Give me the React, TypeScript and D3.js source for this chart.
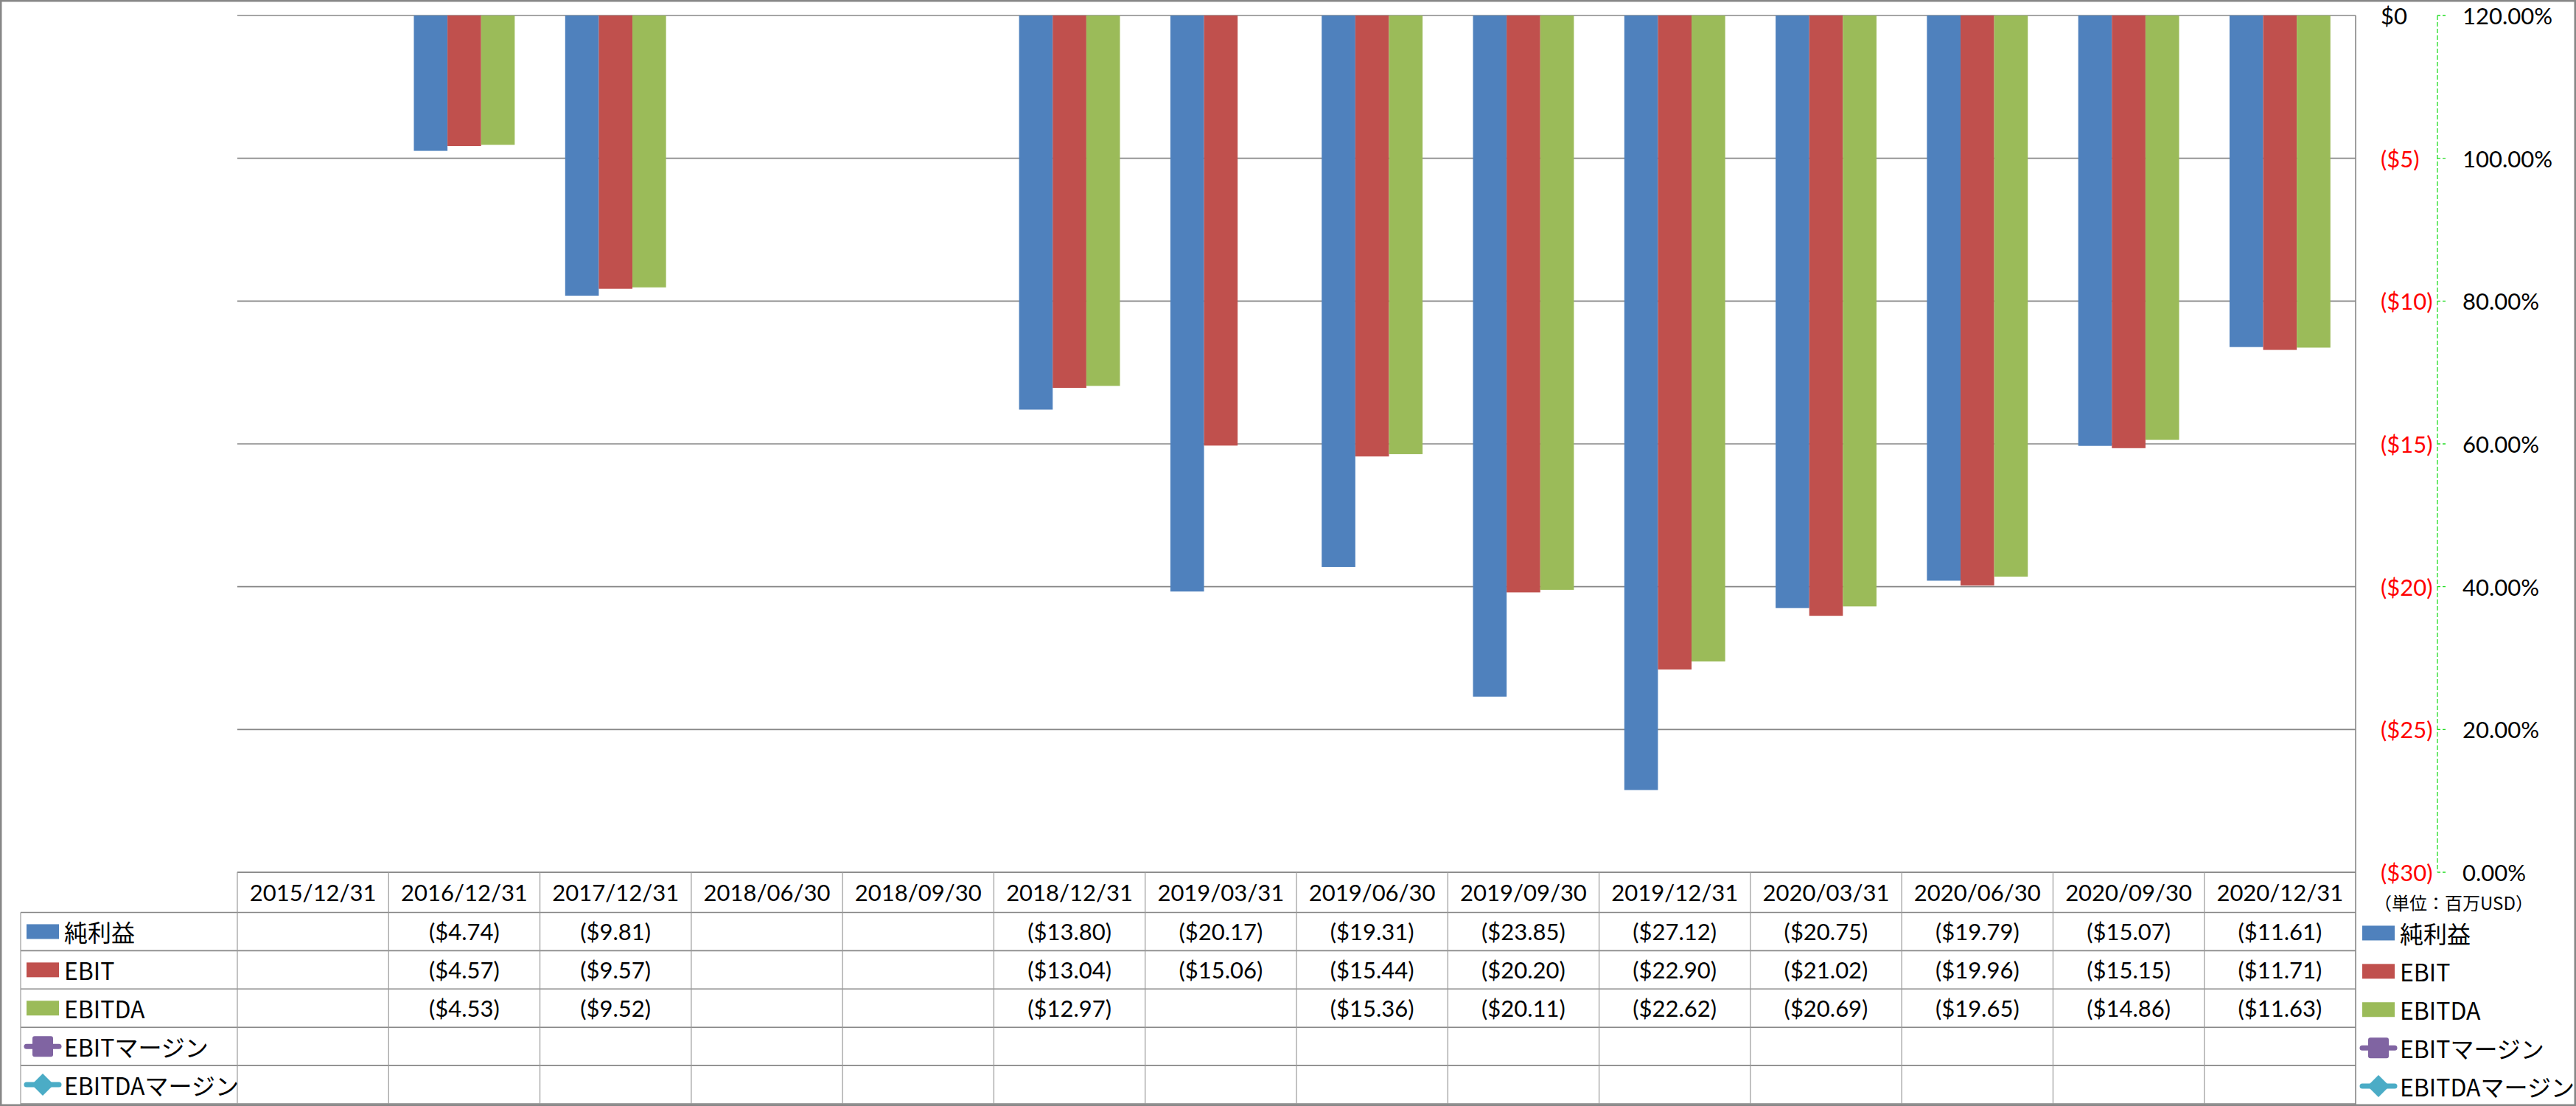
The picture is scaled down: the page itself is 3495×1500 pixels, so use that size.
import React from 'react';
import * as d3 from 'd3';

const categories = [
  '2015/12/31', '2016/12/31', '2017/12/31', '2018/06/30', '2018/09/30', '2018/12/31', '2019/03/31',
  '2019/06/30', '2019/09/30', '2019/12/31', '2020/03/31', '2020/06/30', '2020/09/30', '2020/12/31',
];
const netIncome: (number | null)[] = [null, -4.74, -9.81, null, null, -13.8, -20.17, -19.31, -23.85, -27.12, -20.75, -19.79, -15.07, -11.61];
const ebit: (number | null)[] = [null, -4.57, -9.57, null, null, -13.04, -15.06, -15.44, -20.2, -22.9, -21.02, -19.96, -15.15, -11.71];
const ebitda: (number | null)[] = [null, -4.53, -9.52, null, null, -12.97, null, -15.36, -20.11, -22.62, -20.69, -19.65, -14.86, -11.63];
const ebitMargin: (number | null)[] = [null, null, null, null, null, null, null, null, null, null, null, null, null, null];
const ebitdaMargin: (number | null)[] = [null, null, null, null, null, null, null, null, null, null, null, null, null, null];

const barSeriesNames = ['純利益', 'EBIT', 'EBITDA'];
const lineSeriesNames = ['EBITマージン', 'EBITDAマージン'];
const dollarTicks = [0, -5, -10, -15, -20, -25, -30];
const percentTicks = [1.2, 1.0, 0.8, 0.6, 0.4, 0.2, 0];
const unitLabel = '（単位：百万USD）';

const barColors = ['#4F81BD', '#C0504D', '#9BBB59'];
const lineColors = ['#8064A2', '#4BACC6'];

const W = 3495, H = 1500;
const plotL = 322, plotR = 3196, plotT = 21, plotB = 1183;
const tableL = 28;
const headerH = 54.5;
const rowH = 51.9;
const latin = 'Lato, "Noto Sans", sans-serif';
const jp = '"Noto Sans CJK JP", "Noto Sans", sans-serif';

function fmtDollar(v: number) {
  return v === 0 ? '$0' : `($${Math.abs(v)})`;
}
function fmtVal(v: number) {
  return v < 0 ? `($${Math.abs(v).toFixed(2)})` : `$${v.toFixed(2)}`;
}

function LegendKey({ kind, idx, cx, cy }: { kind: 'bar' | 'line'; idx: number; cx: number; cy: number }) {
  if (kind === 'bar') {
    return <rect x={cx - 22} y={cy - 10} width={44} height={20} fill={barColors[idx]} />;
  }
  const c = lineColors[idx];
  return (
    <g>
      <line x1={cx - 22} x2={cx + 22} y1={cy} y2={cy} stroke={c} strokeWidth={7} strokeLinecap="round" />
      {idx === 0 ? (
        <rect x={cx - 14} y={cy - 14} width={28} height={28} rx={3} fill={c} />
      ) : (
        <path d={`M${cx},${cy - 15}L${cx + 15},${cy}L${cx},${cy + 15}L${cx - 15},${cy}Z`} fill={c} />
      )}
    </g>
  );
}

export default function App() {
  const x0 = d3.scaleBand<string>().domain(categories).range([plotL, plotR]).paddingInner(0).paddingOuter(0);
  const x1 = d3.scaleBand<string>().domain(barSeriesNames).range([0, x0.bandwidth()]).paddingInner(0).paddingOuter(0.75);
  const y = d3.scaleLinear().domain([-30, 0]).range([plotB, plotT]);
  const y2 = d3.scaleLinear().domain([0, 1.2]).range([plotB, plotT]);
  const barData = [netIncome, ebit, ebitda];
  const lineData = [ebitMargin, ebitdaMargin];

  const rowTops = [0, 1, 2, 3, 4, 5].map((i) => plotB + headerH + i * rowH);
  const secAxisX = 3307;

  return (
    <div style={{ position: 'absolute', left: 0, top: 0 }}>
      <svg width={W} height={H} style={{ display: 'block' }}>
        <rect x={0} y={0} width={W} height={H} fill="#fff" />

        {/* gridlines */}
        {dollarTicks.map((t) => (
          <line key={'g' + t} x1={plotL} x2={plotR} y1={y(t)} y2={y(t)} stroke="#878787" strokeWidth={1.6} />
        ))}
        {/* primary axis line at right */}
        <line x1={plotR} x2={plotR} y1={plotT} y2={plotB} stroke="#878787" strokeWidth={1.6} />

        {/* bars */}
        {barData.map((series, si) =>
          series.map((v, ci) =>
            v == null ? null : (
              <rect
                key={`b${si}-${ci}`}
                x={(x0(categories[ci]) as number) + (x1(barSeriesNames[si]) as number)}
                y={y(Math.max(0, v))}
                width={x1.bandwidth()}
                height={Math.abs(y(v) - y(0))}
                fill={barColors[si]}
              />
            )
          )
        )}

        {/* line series (no data points) */}
        {lineData.map((series, si) => {
          const gen = d3
            .line<number | null>()
            .defined((d) => d != null)
            .x((_, i) => (x0(categories[i]) as number) + x0.bandwidth() / 2)
            .y((d) => y2(d as number));
          const p = gen(series);
          return p ? <path key={'l' + si} d={p} fill="none" stroke={lineColors[si]} strokeWidth={7} /> : null;
        })}

        {/* secondary axis */}
        <line x1={secAxisX} x2={secAxisX} y1={plotT} y2={plotB} stroke="#22DD22" strokeWidth={1.3} strokeDasharray="6,3" />
        {percentTicks.map((t) => (
          <line key={'t2' + t} x1={secAxisX} x2={secAxisX + 11} y1={y2(t)} y2={y2(t)} stroke="#22DD22" strokeWidth={1.3} strokeDasharray="4,3" />
        ))}

        {/* primary axis labels */}
        {dollarTicks.map((t) => (
          <text
            key={'d' + t}
            x={3230}
            y={y(t)}
            dominantBaseline="central"
            fontFamily={latin}
            fontSize={31}
            fill={t < 0 ? '#FF0000' : '#000'}
          >
            {fmtDollar(t)}
          </text>
        ))}
        {/* secondary axis labels */}
        {percentTicks.map((t) => (
          <text key={'p' + t} x={3341} y={y2(t)} dominantBaseline="central" fontFamily={latin} fontSize={31} fill="#000">
            {d3.format('.2%')(t)}
          </text>
        ))}

        <text x={3329} y={1223} textAnchor="middle" dominantBaseline="central" fontFamily={jp} fontSize={24} fill="#000">
          {unitLabel}
        </text>

        {/* data table */}
        <line x1={plotL} x2={plotR} y1={plotB} y2={plotB} stroke="#878787" strokeWidth={1.6} />
        {rowTops.map((ry, i) => (
          <line key={'rh' + i} x1={tableL} x2={plotR} y1={ry} y2={ry} stroke="#878787" strokeWidth={1.6} />
        ))}
        <line x1={tableL} x2={tableL} y1={rowTops[0]} y2={H} stroke="#9a9a9a" strokeWidth={1.2} />
        {categories.map((c) => (
          <line
            key={'v' + c}
            x1={x0(c) as number}
            x2={x0(c) as number}
            y1={plotB}
            y2={H}
            stroke="#9a9a9a"
            strokeWidth={1.2}
          />
        ))}
        <line x1={plotR} x2={plotR} y1={plotB} y2={H} stroke="#878787" strokeWidth={1.6} />

        {categories.map((c) => (
          <text
            key={'h' + c}
            x={(x0(c) as number) + x0.bandwidth() / 2}
            y={plotB + headerH / 2}
            textAnchor="middle"
            dominantBaseline="central"
            fontFamily={latin}
            fontSize={31}
            fill="#000"
          >
            {c}
          </text>
        ))}
        {[...barData, ...lineData].map((series, si) =>
          series.map((v, ci) =>
            v == null ? null : (
              <text
                key={`tv${si}-${ci}`}
                x={(x0(categories[ci]) as number) + x0.bandwidth() / 2}
                y={rowTops[si] + rowH / 2}
                textAnchor="middle"
                dominantBaseline="central"
                fontFamily={latin}
                fontSize={31}
                fill="#000"
              >
                {fmtVal(v)}
              </text>
            )
          )
        )}

        {/* legend keys in table + right legend */}
        {[...barSeriesNames, ...lineSeriesNames].map((name, i) => {
          const kind = i < 3 ? 'bar' : 'line';
          const idx = i < 3 ? i : i - 3;
          const cy = rowTops[i] + rowH / 2;
          return (
            <g key={'lg' + name}>
              <LegendKey kind={kind} idx={idx} cx={58} cy={cy} />
              <text x={87} y={cy} dominantBaseline="central" fontFamily={jp} fontSize={32} fill="#000">
                {name}
              </text>
              <LegendKey kind={kind} idx={idx} cx={3227} cy={cy + 2} />
              <text x={3256} y={cy + 2} dominantBaseline="central" fontFamily={jp} fontSize={32} fill="#000">
                {name}
              </text>
            </g>
          );
        })}

        {/* outer border */}
        <rect x={1} y={1} width={W - 2} height={H - 2} fill="none" stroke="#878787" strokeWidth={3} />
      </svg>
    </div>
  );
}
